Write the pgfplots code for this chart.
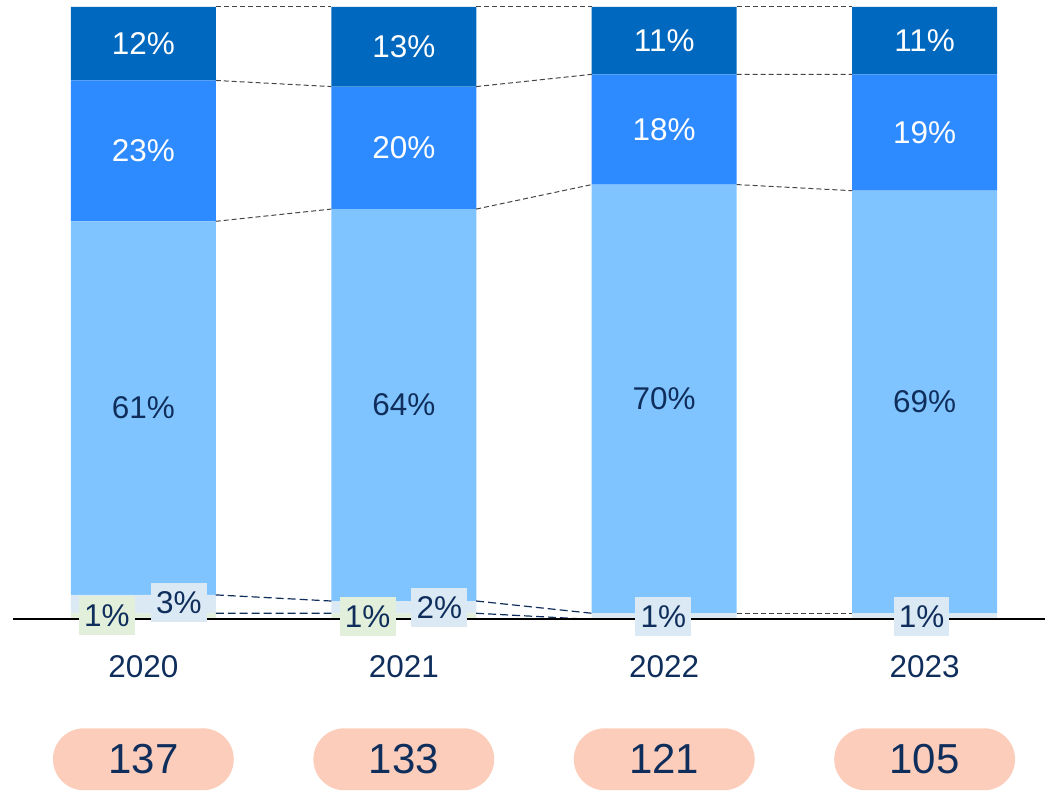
\documentclass[border=0pt]{standalone}
\usepackage{pgfplots}
\pgfplotsset{compat=1.18}
\usepackage{fontspec}
\setmainfont{Liberation Sans}

\definecolor{segdark}{RGB}{0,104,190}
\definecolor{segmid}{RGB}{46,139,255}
\definecolor{seglight}{RGB}{128,196,255}
\definecolor{segpale}{RGB}{218,233,244}
\definecolor{seggreen}{RGB}{226,239,218}
\definecolor{pill}{RGB}{251,205,186}
\definecolor{navy}{RGB}{16,46,92}
\definecolor{dashgray}{RGB}{70,70,70}

\pgfplotsset{
  base/.style={
    width=1046pt, height=791pt, scale only axis,
    xmin=-0.5505, xmax=3.4622,
    ymin=-27.9, ymax=101.14,
    axis lines=none, clip=false,
  },
  lbl/.style={
    draw=none, mark=none, nodes near coords,
    point meta=explicit symbolic,
    every node near coord/.append style={anchor=center, font=\fontsize{31.5}{37}\selectfont, #1},
  },
  conn/.style={unbounded coords=jump, line width=1pt, dash pattern=on 5pt off 3pt, dashgray},
  connb/.style={unbounded coords=jump, line width=1.2pt, dash pattern=on 8pt off 4pt, navy},
}

\begin{document}
\begin{tikzpicture}
% stacked bars
\begin{axis}[base, ybar stacked, bar width=0.5566]
  \addplot[fill=seggreen, draw=none] coordinates {(0,1) (1,1) (2,0) (3,0)};
  \addplot[fill=segpale, draw=none] coordinates {(0,3) (1,2) (2,1) (3,1)};
  \addplot[fill=seglight, draw=none] coordinates {(0,61) (1,64) (2,70) (3,69)};
  \addplot[fill=segmid, draw=none] coordinates {(0,23) (1,20) (2,18) (3,19)};
  \addplot[fill=segdark, draw=none] coordinates {(0,12) (1,13) (2,11) (3,11)};
\end{axis}

% connectors, baseline, labels
\begin{axis}[base]
  % connectors between stack boundaries
  \addplot[conn] coordinates {(0.278,100)(0.722,100)(0.722,nan)(1.278,100)(1.722,100)(1.722,nan)(2.278,100)(2.722,100)};
  \addplot[conn] coordinates {(0.278,88)(0.722,87)(0.722,nan)(1.278,87)(1.722,89)(1.722,nan)(2.278,89)(2.722,89)};
  \addplot[conn] coordinates {(0.278,65)(0.722,67)(0.722,nan)(1.278,67)(1.722,71)(1.722,nan)(2.278,71)(2.722,70)};
  \addplot[conn] coordinates {(2.278,1)(2.722,1)};
  \addplot[connb] coordinates {(0.278,4)(0.722,3)(0.722,nan)(1.278,3)(1.722,1)};
  \addplot[connb] coordinates {(0.278,1)(0.722,1)(0.722,nan)(1.278,1)(1.722,0)};

  % baseline
  \addplot[black, line width=2pt] coordinates {(-0.5006,0) (3.4622,0)};

  % labels inside segments
  \addplot[lbl={text=white}] coordinates {
    (0,94)[12\%] (1,93.5)[13\%] (2,94.5)[11\%] (3,94.5)[11\%]
    (0,76.5)[23\%] (1,77)[20\%] (2,80)[18\%] (3,79.5)[19\%]};
  \addplot[lbl={text=navy}] coordinates {
    (0,34.5)[61\%] (1,35)[64\%] (2,36)[70\%] (3,35.5)[69\%]};

  % small segment labels
  \addplot[lbl={text=navy, fill=seggreen, minimum width=56pt, minimum height=39pt, inner sep=0pt}] coordinates {
    (-0.140,0.65)[1\%] (0.861,0.41)[1\%]};
  \addplot[lbl={text=navy, fill=segpale, minimum width=56pt, minimum height=39pt, inner sep=0pt}] coordinates {
    (0.136,2.77)[3\%] (1.137,1.88)[2\%] (1.997,0.41)[1\%] (2.988,0.41)[1\%]};

  % years
  \addplot[lbl={text=navy}] coordinates {
    (0,-7.75)[2020] (1,-7.75)[2021] (2,-7.75)[2022] (3,-7.75)[2023]};

  % totals in pills
  \addplot[lbl={text=navy, fill=pill, rounded corners=31pt, minimum width=181pt, minimum height=62pt, inner sep=0pt, font=\fontsize{42}{50}\selectfont}] coordinates {
    (0,-22.84)[137] (1,-22.84)[133] (2,-22.84)[121] (3,-22.84)[105]};
\end{axis}
\path (current axis.south west) rectangle (current axis.north east);
\end{tikzpicture}
\end{document}
